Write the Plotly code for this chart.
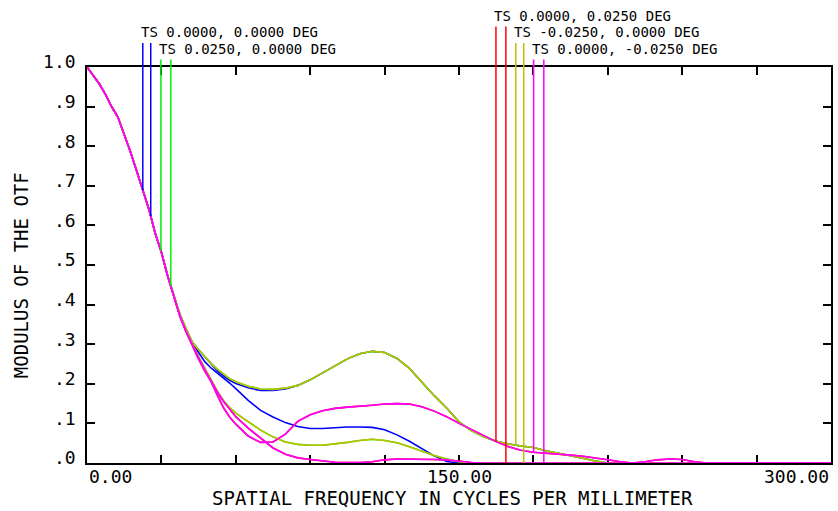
import numpy as np
import plotly.graph_objects as go

# Spatial frequency samples (cycles/mm)
FREQ = [0, 2.5, 5, 7.5, 10, 12.5, 15, 17.5, 20, 22.5, 25, 27.5, 30, 32.5, 35,
        37.5, 40, 42.5, 45, 47.5, 50, 52.5, 55, 57.5, 60,
        65, 70, 75, 80, 85, 90, 95, 100, 105, 110,
        115, 120, 125, 130, 135, 140, 145, 150, 155, 160,
        165, 170, 175, 180, 185, 190, 195, 200, 205, 210,
        215, 220, 225, 230, 235, 240, 245, 250,
        260, 270, 280, 290, 300]

# Low-frequency part shared by every field (0 - 35 cycles/mm)
MTF_COMMON = [1.000, 0.979, 0.957, 0.930, 0.899, 0.873, 0.832, 0.786, 0.738,
              0.688, 0.640, 0.580, 0.532, 0.473, 0.424]

# Remaining parts of the individual curves (37.5 - 300 cycles/mm)
TAIL_UPPER = [0.375, 0.338, 0.305, 0.286, 0.268, 0.252, 0.237, 0.224, 0.213, 0.205,
              0.194, 0.187, 0.186, 0.189, 0.196, 0.210, 0.227, 0.246, 0.263, 0.276,
              0.282, 0.279, 0.264, 0.239, 0.205, 0.170, 0.139, 0.104, 0.082, 0.066,
              0.055, 0.048, 0.043, 0.039, 0.031, 0.025, 0.019, 0.012, 0.005, 0.000,
              0.000, 0.000, 0.000, 0.000, 0.000, 0.000, 0.000, 0.000,
              0.000, 0.000, 0.000, 0.000, 0.000]

TAIL_AXIS_UPPER = [0.375, 0.338, 0.305, 0.286, 0.268, 0.252, 0.233, 0.220, 0.209, 0.201,
                   0.190, 0.183, 0.183, 0.187, 0.196, 0.210, 0.227, 0.246, 0.263, 0.276,
                   0.282, 0.279, 0.264, 0.239, 0.205, 0.170, 0.139, 0.104, 0.082, 0.066,
                   0.055, 0.048, 0.043, 0.039, 0.031, 0.025, 0.019, 0.012, 0.005, 0.000,
                   0.000, 0.000, 0.000, 0.000, 0.000, 0.000, 0.000, 0.000,
                   0.000, 0.000, 0.000, 0.000, 0.000]

TAIL_AXIS_LOWER = [0.372, 0.334, 0.303, 0.279, 0.256, 0.240, 0.228, 0.215, 0.202, 0.188,
                   0.158, 0.133, 0.116, 0.102, 0.092, 0.087, 0.087, 0.089, 0.091, 0.091,
                   0.090, 0.084, 0.071, 0.055, 0.037, 0.018, 0.004, 0.000, 0.000, 0.000,
                   0.000, 0.000, 0.000, 0.000, 0.000, 0.000, 0.000, 0.000, 0.000, 0.000,
                   0.000, 0.000, 0.000, 0.000, 0.000, 0.000, 0.000, 0.000,
                   0.000, 0.000, 0.000, 0.000, 0.000]

TAIL_X_LOWER = [0.372, 0.333, 0.298, 0.268, 0.238, 0.210, 0.182, 0.158, 0.140, 0.126,
                0.104, 0.083, 0.066, 0.053, 0.047, 0.045, 0.045, 0.048, 0.052, 0.057,
                0.060, 0.057, 0.051, 0.041, 0.030, 0.019, 0.010, 0.003, 0.000, 0.000,
                0.000, 0.000, 0.000, 0.000, 0.000, 0.000, 0.000, 0.000, 0.000, 0.000,
                0.000, 0.000, 0.000, 0.000, 0.000, 0.000, 0.000, 0.000,
                0.000, 0.000, 0.000, 0.000, 0.000]

TAIL_Y_MID = [0.370, 0.331, 0.296, 0.262, 0.232, 0.206, 0.172, 0.140, 0.116, 0.098,
              0.068, 0.052, 0.053, 0.073, 0.105, 0.122, 0.132, 0.138, 0.141, 0.143,
              0.146, 0.149, 0.150, 0.149, 0.142, 0.131, 0.117, 0.100, 0.084, 0.068,
              0.054, 0.041, 0.032, 0.027, 0.025, 0.023, 0.020, 0.017, 0.013, 0.008,
              0.003, 0.000, 0.003, 0.008, 0.010, 0.009, 0.003, 0.000,
              0.000, 0.000, 0.000, 0.000, 0.000]

TAIL_Y_LOWER = [0.370, 0.331, 0.297, 0.266, 0.236, 0.207, 0.180, 0.156, 0.135, 0.117,
                0.088, 0.062, 0.038, 0.022, 0.013, 0.009, 0.005, 0.002, 0.001, 0.001,
                0.003, 0.008, 0.010, 0.010, 0.010, 0.009, 0.008, 0.005, 0.001, 0.000,
                0.000, 0.000, 0.000, 0.000, 0.000, 0.000, 0.000, 0.000, 0.000, 0.000,
                0.000, 0.000, 0.000, 0.000, 0.000, 0.000, 0.000, 0.000,
                0.000, 0.000, 0.000, 0.000, 0.000]

FIELD_LABELS = ["TS 0.0000, 0.0000 DEG",
                "TS 0.0250, 0.0000 DEG",
                "TS 0.0000, 0.0250 DEG",
                "TS -0.0250, 0.0000 DEG",
                "TS 0.0000, -0.0250 DEG"]
FIELD_COLORS = ["#0000ff", "#00ee00", "#ff0000", "#c0c000", "#ff00ff"]
FIELD_T = [TAIL_AXIS_UPPER, TAIL_UPPER, TAIL_Y_MID, TAIL_UPPER, TAIL_Y_MID]
FIELD_S = [TAIL_AXIS_LOWER, TAIL_X_LOWER, TAIL_Y_LOWER, TAIL_X_LOWER, TAIL_Y_LOWER]

# Frequencies at which each field's T/S key lines are dropped
KEY_FREQ_T = [22.5, 29.8, 164.9, 172.9, 180.1]
KEY_FREQ_S = [25.7, 33.8, 168.9, 176.1, 184.2]
KEY_ROW = [1, 2, 0, 1, 2]

X_RANGE = [0, 300]
Y_RANGE = [0, 1]
X_TICKS = [0, 30, 60, 90, 120, 150, 180, 210, 240, 270, 300]
X_LABEL_VALS = [0, 150, 300]
Y_TICKS = [0.0, 0.1, 0.2, 0.3, 0.4, 0.5, 0.6, 0.7, 0.8, 0.9, 1.0]
Y_TICK_TEXT = [".0", ".1", ".2", ".3", ".4", ".5", ".6", ".7", ".8", ".9", "1.0"]

W, H = 838, 511
ML, MR, MT, MB = 87, 5, 67, 48
PW, PH = W - ML - MR, H - MT - MB
FONT = "DejaVu Sans Mono"


def paper_x(px):
    return (px - ML) / PW


def paper_y(py):
    return (H - MB - py) / PH


def freq_to_paper(f):
    return (f - X_RANGE[0]) / (X_RANGE[1] - X_RANGE[0])


def mtf_to_paper(v):
    return (v - Y_RANGE[0]) / (Y_RANGE[1] - Y_RANGE[0])


fig = go.Figure()
for i in range(len(FIELD_LABELS)):
    for tail in (FIELD_T[i], FIELD_S[i]):
        fig.add_trace(go.Scatter(x=FREQ, y=MTF_COMMON + tail, mode="lines",
                                 line=dict(color=FIELD_COLORS[i], width=1.6),
                                 cliponaxis=False, showlegend=False,
                                 hoverinfo="skip"))

shapes = []
annotations = []
row_y = [15.5, 32, 48.5]
for i, label in enumerate(FIELD_LABELS):
    ly = row_y[KEY_ROW[i]]
    for f, tail in ((KEY_FREQ_T[i], FIELD_T[i]), (KEY_FREQ_S[i], FIELD_S[i])):
        v = float(np.interp(f, FREQ, MTF_COMMON + tail))
        shapes.append(dict(type="line", xref="paper", yref="paper",
                           x0=freq_to_paper(f), x1=freq_to_paper(f),
                           y0=paper_y(ly + 11), y1=mtf_to_paper(v),
                           line=dict(color=FIELD_COLORS[i], width=1.5)))
    annotations.append(dict(text=label, xref="paper", yref="paper",
                            x=freq_to_paper(KEY_FREQ_T[i] - 1.5), xanchor="left",
                            y=paper_y(ly), yanchor="middle", showarrow=False,
                            font=dict(family=FONT, size=14, color="black")))

anchors = {0: "left", 150: "center", 300: "right"}
for v in X_LABEL_VALS:
    annotations.append(dict(text=f"{v:.2f}", xref="x", yref="paper",
                            x=v, xanchor=anchors[v], y=paper_y(476), yanchor="middle",
                            showarrow=False,
                            font=dict(family=FONT, size=18, color="black")))

annotations.append(dict(text="SPATIAL FREQUENCY IN CYCLES PER MILLIMETER",
                        xref="paper", yref="paper", x=paper_x(453), y=paper_y(498),
                        xanchor="center", yanchor="middle", showarrow=False,
                        font=dict(family=FONT, size=19, color="black")))
annotations.append(dict(text="MODULUS OF THE OTF", textangle=-90,
                        xref="paper", yref="paper", x=paper_x(21), y=paper_y(275),
                        xanchor="center", yanchor="middle", showarrow=False,
                        font=dict(family=FONT, size=19, color="black")))

axis_style = dict(showline=True, linecolor="black", linewidth=1.6, mirror="ticks",
                  ticks="inside", ticklen=8, tickwidth=1.5, tickcolor="black",
                  showgrid=False, zeroline=False, layer="below traces")

fig.update_layout(
    width=W, height=H,
    margin=dict(l=ML, r=MR, t=MT, b=MB),
    paper_bgcolor="white", plot_bgcolor="white",
    xaxis=dict(range=X_RANGE, tickvals=X_TICKS, showticklabels=False, **axis_style),
    yaxis=dict(range=Y_RANGE, tickvals=Y_TICKS, ticktext=Y_TICK_TEXT,
               ticklabelshift=-5, ticklabelstandoff=6,
               tickfont=dict(family=FONT, size=18, color="black"), **axis_style),
    shapes=shapes,
    annotations=annotations,
)

fig.write_html("out.html")
